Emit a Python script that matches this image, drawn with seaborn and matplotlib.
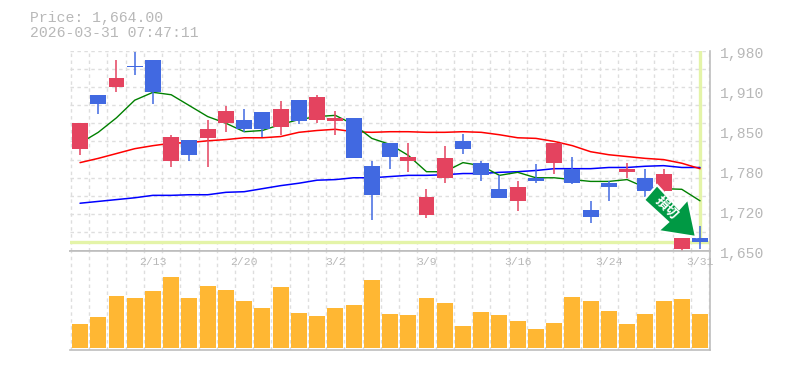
import matplotlib
matplotlib.use("Agg")
import matplotlib.pyplot as plt
from matplotlib.patches import Polygon
import numpy as np
import seaborn as sns

# OHLC
opens = [1818, 1907, 1919, 1955, 1965, 1798, 1833, 1835, 1860, 1866, 1879, 1853,
         1898, 1866, 1863, 1868, 1790, 1827, 1798, 1709, 1769, 1830, 1794, 1752,
         1731, 1769, 1794, 1785, 1716, 1761, 1780, 1770, 1749, 1652, 1670]
closes = [1860, 1891, 1935, 1952, 1912, 1838, 1807, 1851, 1881, 1850, 1850, 1884,
          1863, 1904, 1868, 1803, 1741, 1805, 1805, 1739, 1803, 1817, 1775, 1736,
          1754, 1764, 1827, 1762, 1706, 1754, 1785, 1749, 1777, 1671, 1664]
highs = [1860, 1907, 1965, 1978, 1965, 1841, 1833, 1866, 1889, 1883, 1879, 1896,
         1899, 1907, 1881, 1868, 1798, 1827, 1828, 1751, 1823, 1843, 1798, 1774,
         1765, 1792, 1827, 1805, 1731, 1764, 1795, 1785, 1785, 1671, 1690]
lows = [1808, 1876, 1912, 1940, 1891, 1787, 1798, 1787, 1845, 1845, 1838, 1841,
        1858, 1860, 1841, 1803, 1700, 1784, 1779, 1703, 1761, 1810, 1764, 1736,
        1716, 1761, 1777, 1759, 1695, 1731, 1770, 1739, 1745, 1648, 1652]
ma_short = [1827, 1845, 1869, 1898, 1911, 1907, 1889, 1871, 1860, 1846, 1848, 1858,
            1866, 1871, 1873, 1858, 1835, 1825, 1807, 1780, 1780, 1795, 1790, 1774,
            1779, 1770, 1770, 1767, 1764, 1764, 1767, 1754, 1752, 1751, 1732]
ma_mid = [1795, 1802, 1810, 1818, 1823, 1827, 1828, 1831, 1833, 1836, 1836, 1838,
          1845, 1848, 1850, 1846, 1845, 1846, 1846, 1845, 1845, 1846, 1845, 1841,
          1836, 1835, 1830, 1823, 1813, 1808, 1805, 1802, 1800, 1794, 1785]
ma_long = [1728, 1731, 1734, 1737, 1741, 1741, 1742, 1742, 1746, 1747, 1752, 1757,
           1761, 1766, 1767, 1770, 1770, 1772, 1774, 1774, 1775, 1777, 1777, 1779,
           1780, 1782, 1785, 1785, 1785, 1787, 1787, 1789, 1790, 1787, 1787]
volume = [24, 31, 52, 50, 57, 71, 50, 62, 58, 47, 40, 61, 35, 32, 40, 43, 68, 34,
          33, 50, 45, 22, 36, 33, 27, 19, 25, 51, 47, 37, 24, 34, 47, 49, 34]
date_labels = ["2/13", "2/20", "3/2", "3/9", "3/16", "3/24", "3/31"]
date_idx = [4, 9, 14, 19, 24, 29, 34]
price_ticks = [1980, 1914, 1848, 1782, 1716, 1650]
price_labels = ["1,980", "1,910", "1,850", "1,780", "1,720", "1,650"]
last_price = 1664

RED = "#e4435f"
BLUE = "#4169e1"
GREY = "#b8b8b8"
AXIS = "#bdbdbd"
GRID = "#dedede"
LIME = "#e4f4a8"
W, H = 785, 370

sns.set_theme(style="white")
plt.rcParams["font.family"] = ["Liberation Mono", "DejaVu Sans Mono"]

fig = plt.figure(figsize=(W / 100, H / 100), dpi=100, facecolor="white")
ax = fig.add_axes([70 / W, 1 - 250.5 / H, 639.5 / W, 200 / H])
ax_vol = fig.add_axes([70 / W, 1 - 349.7 / H, 639.5 / W, 99.2 / H])

idx = np.arange(len(opens))
grid_x = np.arange(len(opens) + 1) - 0.5

# moving averages
sns.lineplot(x=idx, y=ma_long, color="#0000ff", lw=1.1, ax=ax, zorder=3)
sns.lineplot(x=idx, y=ma_mid, color="#ff0000", lw=1.1, ax=ax, zorder=3)
sns.lineplot(x=idx, y=ma_short, color="#008000", lw=1.0, ax=ax, zorder=3)

# candles
cols = [RED if c >= o else BLUE for o, c in zip(opens, closes)]
ax.vlines(idx, lows, highs, colors=cols, lw=1.1, zorder=4, clip_on=False)
ax.bar(idx, np.abs(np.subtract(closes, opens)), bottom=np.minimum(opens, closes),
       width=0.875, color=cols, linewidth=0, zorder=5)

# last price marker
ax.axhline(last_price, color=LIME, lw=2.4, zorder=2)
ax.plot([idx[-1], idx[-1]], [last_price, 1980], color=LIME, lw=2.4, zorder=2)

ax.set_xlim(-0.55, 34.52)
ax.set_ylim(1650, 1980)
ax.set_yticks(np.arange(1650, 1981, 30))
ax.set_xticks(grid_x)
ax.set_yticklabels([])
ax.set_xticklabels([])
ax.tick_params(length=0)
ax.grid(True, color=GRID, ls=(0, (2.5, 2.5)), lw=1)
ax.set_axisbelow(True)
ax.set_xlabel("")
ax.set_ylabel("")
for side in ["top", "left"]:
    ax.spines[side].set_visible(False)
for side in ["bottom", "right"]:
    ax.spines[side].set_color(AXIS)
    ax.spines[side].set_linewidth(1.2)

for v, lab in zip(price_ticks, price_labels):
    ax.annotate(lab, xy=(1, v), xycoords=("axes fraction", "data"), xytext=(7.5, -2.2),
                textcoords="offset points", color=GREY, fontsize=10.6,
                ha="left", va="center", annotation_clip=False)

# volume panel
sns.barplot(x=idx, y=volume, native_scale=True, width=0.875, color="#ffb733",
            saturation=1, linewidth=0, ax=ax_vol, zorder=3)
ax_vol.set_xlim(-0.55, 34.52)
ax_vol.set_ylim(-1.7, 97.5)
ax_vol.set_xticks(grid_x)
ax_vol.set_yticks([])
ax_vol.set_xticklabels([])
ax_vol.tick_params(length=0)
ax_vol.grid(True, axis="x", color=GRID, ls=(0, (2.5, 2.5)), lw=1)
ax_vol.set_axisbelow(True)
ax_vol.set_xlabel("")
ax_vol.set_ylabel("")
ax_vol.spines["left"].set_visible(False)
for side in ["top", "bottom", "right"]:
    ax_vol.spines[side].set_color(AXIS)
    ax_vol.spines[side].set_linewidth(1.2)
for i, lab in zip(date_idx, date_labels):
    ax_vol.annotate(lab, xy=(i, 1), xycoords=("data", "axes fraction"), xytext=(0, -8.6),
                    textcoords="offset points", color=GREY, fontsize=8.2,
                    ha="center", va="center", annotation_clip=False)

# header
fig.text(30 / W, 1 - 18 / H, "Price: 1,664.00", color=GREY, fontsize=10.6, va="center")
fig.text(30 / W, 1 - 33 / H, "2026-03-31 07:47:11", color=GREY, fontsize=10.6, va="center")

# stop-loss arrow
arrow_px = [(657, 185), (644, 200), (668, 222), (658, 231), (696, 237), (688, 199), (679, 209)]
arrow_fig = [(x / W, 1 - y / H) for x, y in arrow_px]
fig.add_artist(Polygon(arrow_fig, closed=True, transform=fig.transFigure,
                       facecolor="#009944", edgecolor="white", lw=1.6, zorder=10))
fig.text(667 / W, 1 - 208 / H, "損切", color="white", fontsize=9.5, fontweight="bold",
         family=["Noto Sans CJK JP", "DejaVu Sans"], rotation=-45,
         rotation_mode="anchor", ha="center", va="center", zorder=11)

fig.savefig("out.png", dpi=100)
